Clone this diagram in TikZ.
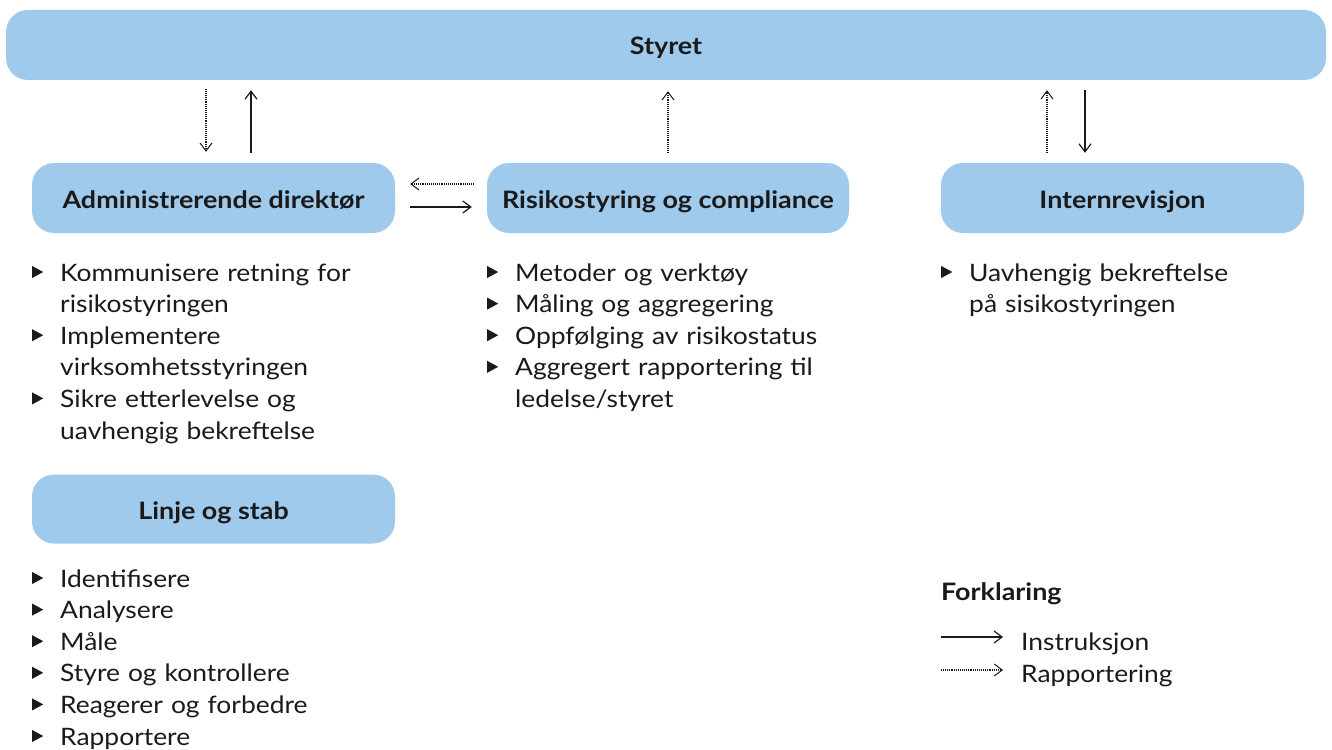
\documentclass[tikz,border=0pt]{standalone}
\usepackage{fontspec}
\setmainfont{Lato}[FakeStretch=1.10]
\newfontfamily\titlefont{Lato}[FakeStretch=1.12]
\usetikzlibrary{arrows.meta}
\definecolor{boxblue}{HTML}{9FCAEC}
\definecolor{ink}{HTML}{1A1A1A}
\newcommand\tri{\makebox[28pt][l]{\tikz[baseline=0pt]\fill[ink] (1pt,3pt) -- (1pt,15pt) -- (12pt,9pt) -- cycle;}}
\newcommand\ind{\hspace*{28pt}}
\begin{document}
\begin{tikzpicture}[x=1pt,y=-1pt,
  box/.style={fill=boxblue, rounded corners=22pt, inner sep=0pt, minimum height=70pt,
    text height=20pt, text depth=0pt,
    font=\titlefont\fontsize{24}{28}\selectfont\bfseries, text=ink},
  list/.style={anchor=base west, align=left, inner sep=0pt, text width=420pt,
    font=\fontsize{24}{31.6}\selectfont, text=ink},
  instr/.style={draw=ink, line width=1.2pt, -{Straight Barb[length=8pt,width=12pt]}},
  rep/.style={draw=ink, line width=1.2pt, dash pattern=on 1pt off 0.9pt,
    -{Straight Barb[length=8pt,width=12pt,line width=1pt]}}]
\useasboundingbox (0,0) rectangle (1332,749);
\begin{scope}
\clip (0,0) rectangle (1332,749);
\node[box, minimum width=1320pt] (styret) at (666,45) {Styret};
\node[box, minimum width=363pt] (admin) at (213.5,198) {Administrerende direktør};
\node[box, minimum width=362pt] (risiko) at (668,198) {Risikostyring og compliance};
\node[box, minimum width=363pt] (intern) at (1122.5,198) {Internrevisjon};
\node[box, minimum width=363pt, minimum height=69pt] (linje) at (213.5,509) {Linje og stab};

\node[list] (adminlist) at (32,281) {\tri Kommunisere retning for\\ \ind risikostyringen\\
  \tri Implementere\\ \ind virksomhetsstyringen\\ \tri Sikre etterlevelse og\\ \ind uavhengig bekreftelse};
\node[list] (risikolist) at (487,281) {\tri Metoder og verktøy\\ \tri Måling og aggregering\\
  \tri Oppfølging av risikostatus\\ \tri Aggregert rapportering til\\ \ind ledelse/styret};
\node[list] (internlist) at (941,281) {\tri Uavhengig bekreftelse\\ \ind på sisikostyringen};
\node[list] (linjelist) at (32,587) {\tri Identifisere\\ \tri Analysere\\ \tri Måle\\
  \tri Styre og kontrollere\\ \tri Reagerer og forbedre\\ \tri Rapportere};

\node[anchor=base west, inner sep=0pt, font=\titlefont\fontsize{24}{28}\selectfont\bfseries, text=ink]
  (forkl) at (941,600) {Forklaring};
\node[anchor=base west, inner sep=0pt, font=\fontsize{24}{28}\selectfont, text=ink]
  (linstr) at (1021,650) {Instruksjon};
\node[anchor=base west, inner sep=0pt, font=\fontsize{24}{28}\selectfont, text=ink]
  (lrep) at (1021,682) {Rapportering};
\coordinate (i1) at (941,637);
\coordinate (i2) at (1003,637);
\coordinate (r1) at (941,670);
\coordinate (r2) at (1003,670);
\draw[instr] (i1) -- (i2);
\draw[rep] (r1) -- (r2);

% vertical connectors
\draw[rep, shorten <=9pt, shorten >=11pt] (styret.south -| 206,0) -- (admin.north -| 206,0);
\draw[instr, shorten <=10pt, shorten >=10pt] (admin.north -| 251,0) -- (styret.south -| 251,0);
\draw[rep, shorten <=10pt, shorten >=11pt] (risiko.north -| 668,0) -- (styret.south -| 668,0);
\draw[rep, shorten <=10pt, shorten >=10pt] (intern.north -| 1047,0) -- (styret.south -| 1047,0);
\draw[instr, shorten <=10pt, shorten >=10pt] (styret.south -| 1085,0) -- (intern.north -| 1085,0);
% horizontal connectors
\draw[rep, shorten <=13pt, shorten >=15pt] (risiko.west |- 0,184) -- (admin.east |- 0,184);
\draw[instr, shorten <=15pt, shorten >=15pt] (admin.east |- 0,207) -- (risiko.west |- 0,207);
\end{scope}
\end{tikzpicture}
\end{document}
